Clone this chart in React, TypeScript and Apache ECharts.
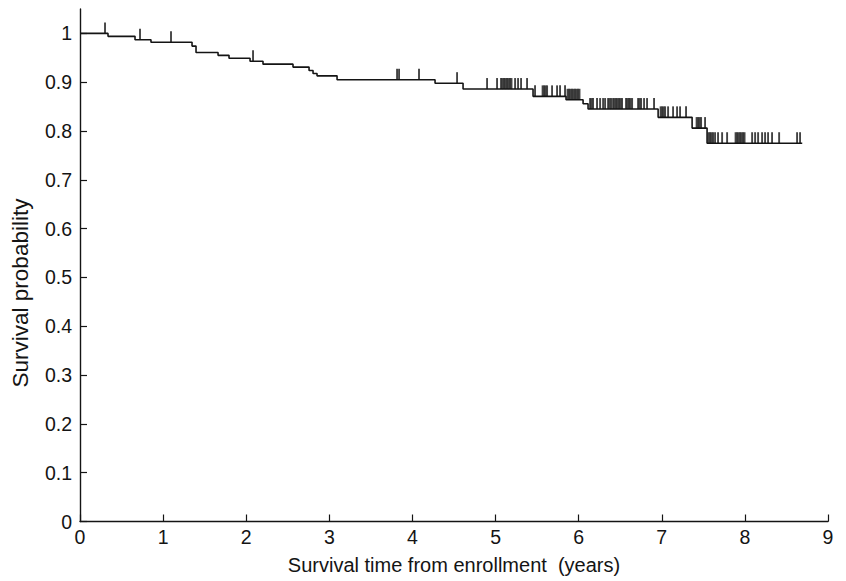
import React, { useEffect, useRef } from "react";
import * as echarts from "echarts";

// Kaplan-Meier step times (years) and survival after each step
const stepTimes = [0, 0.337, 0.662, 0.854, 1.348, 1.396, 1.661, 1.793, 2.046, 2.202, 2.563, 2.756, 2.804, 2.852, 3.093, 4.272, 4.609, 5.451, 5.848, 6.053, 6.113, 6.956, 7.365, 7.545];
const stepSurvival = [1, 0.994, 0.987, 0.982, 0.974, 0.961, 0.955, 0.949, 0.943, 0.937, 0.931, 0.924, 0.918, 0.913, 0.905, 0.898, 0.886, 0.871, 0.864, 0.856, 0.845, 0.828, 0.806, 0.775];
const followUpEnd = 8.69;

// censored observations (years)
const censorTimes = [
  0.301, 0.722, 1.095, 2.082, 3.815, 3.839, 4.079, 4.537, 4.898, 5.018,
  5.066, 5.084, 5.102, 5.12, 5.138, 5.156, 5.174, 5.192, 5.235, 5.271, 5.307, 5.379,
  5.475, 5.566, 5.584, 5.602, 5.62, 5.68, 5.74, 5.776, 5.836, 5.866, 5.884, 5.902, 5.92,
  5.938, 5.956, 5.974, 5.992, 6.01, 6.137, 6.155, 6.173, 6.221, 6.258, 6.294, 6.318, 6.354,
  6.372, 6.39, 6.414, 6.432, 6.45, 6.468, 6.486, 6.504, 6.522, 6.57, 6.588, 6.606, 6.624, 6.643,
  6.715, 6.733, 6.751, 6.787, 6.823, 6.907, 6.986, 7.004, 7.022, 7.04, 7.076, 7.136, 7.184, 7.22, 7.292,
  7.419, 7.437, 7.455, 7.473, 7.521, 7.563, 7.581, 7.599, 7.617, 7.641, 7.677, 7.726, 7.786,
  7.888, 7.906, 7.924, 7.942, 7.96, 7.978, 7.996, 8.087, 8.123, 8.159, 8.207, 8.243, 8.279, 8.327,
  8.412, 8.628, 8.664,
];

const xTickValues = [0, 1, 2, 3, 4, 5, 6, 7, 8, 9];
const yTickValues = [0, 0.1, 0.2, 0.3, 0.4, 0.5, 0.6, 0.7, 0.8, 0.9, 1];

const FONT = "'Liberation Sans', Arial, Helvetica, sans-serif";
const INK = "#141414";

function survivalAt(t: number): number {
  let s = stepSurvival[0];
  for (let i = 0; i < stepTimes.length; i++) {
    if (stepTimes[i] <= t) s = stepSurvival[i];
  }
  return s;
}

export default function App() {
  const ref = useRef<HTMLDivElement>(null);
  useEffect(() => {
    document.body.style.margin = "0";
    if (!ref.current) return;
    const chart = echarts.init(ref.current, null, { renderer: "svg" });
    const lineData = stepTimes.map((t, i) => [t, stepSurvival[i]]);
    lineData.push([followUpEnd, stepSurvival[stepSurvival.length - 1]]);
    const censorData = censorTimes.map((t) => [t, survivalAt(t)]);
    chart.setOption({
      animation: false,
      backgroundColor: "#ffffff",
      grid: { left: 80, right: 18, top: 9, bottom: 59.5, containLabel: false },
      xAxis: {
        type: "value",
        min: 0,
        max: 9,
        interval: 1,
        name: "Survival time from enrollment  (years)",
        nameLocation: "middle",
        nameGap: 33,
        nameTextStyle: { fontFamily: FONT, fontSize: 20, color: INK },
        axisLine: { show: true, onZero: false, lineStyle: { color: INK, width: 1.4 } },
        axisTick: { show: true, inside: true, length: 7, lineStyle: { color: INK, width: 1.2 }, customValues: xTickValues },
        axisLabel: { fontFamily: FONT, fontSize: 19.5, color: INK, margin: 5, customValues: xTickValues },
        splitLine: { show: false },
      },
      yAxis: {
        type: "value",
        min: 0,
        max: 1.05,
        axisLine: { show: true, onZero: false, lineStyle: { color: INK, width: 1.4 } },
        axisTick: { show: true, inside: true, length: 7, lineStyle: { color: INK, width: 1.2 }, customValues: yTickValues },
        axisLabel: {
          fontFamily: FONT,
          fontSize: 19.5,
          color: INK,
          margin: 8,
          customValues: yTickValues,
          formatter: (v: number) => (v === 0 ? "0" : v >= 0.999 ? "1" : v.toFixed(1)),
        },
        splitLine: { show: false },
      },
      graphic: [
        {
          type: "text",
          x: 20,
          y: 293,
          rotation: Math.PI / 2,
          style: {
            text: "Survival probability",
            fontFamily: FONT,
            fontSize: 22.5,
            fill: INK,
            textAlign: "center",
            textVerticalAlign: "middle",
          },
        },
      ],
      series: [
        {
          type: "line",
          step: "end",
          data: lineData,
          showSymbol: false,
          symbol: "none",
          lineStyle: { color: INK, width: 1.6 },
          z: 2,
        },
        {
          type: "scatter",
          data: censorData,
          symbol: "rect",
          symbolSize: [1.9, 11],
          symbolOffset: [0, -5.5],
          itemStyle: { color: INK },
          z: 3,
        },
      ],
    });
    return () => chart.dispose();
  }, []);
  return <div ref={ref} style={{ width: 846, height: 581 }} />;
}
